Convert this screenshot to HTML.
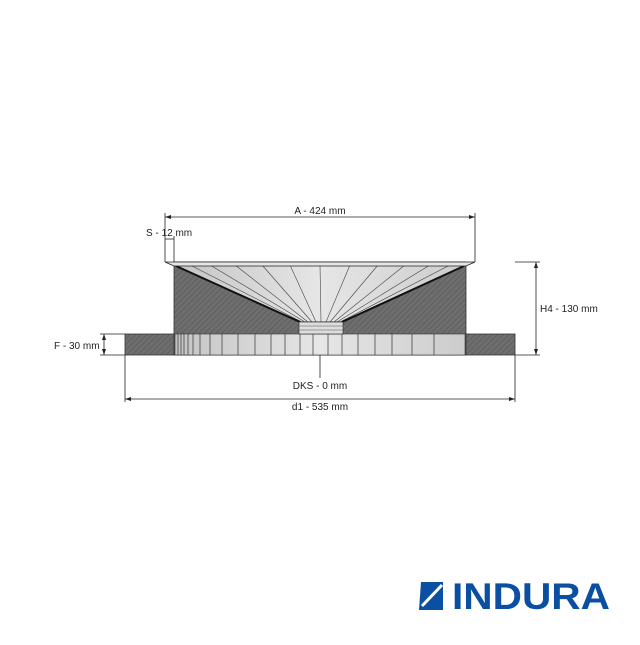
<!DOCTYPE html>
<html><head><meta charset="utf-8"><style>
body{margin:0;background:#fff;width:640px;height:640px;overflow:hidden}
text{font-family:"Liberation Sans",sans-serif;font-size:10px;fill:#222}
</style></head><body>
<svg width="640" height="640" viewBox="0 0 640 640">
<defs>
<pattern id="h" width="4" height="4" patternUnits="userSpaceOnUse" patternTransform="rotate(45)">
<rect width="4" height="4" fill="#6e6e6e"/><line x1="0" y1="0" x2="0" y2="4" stroke="#5a5a5a" stroke-width="1.5"/>
</pattern>
<linearGradient id="g" x1="0" x2="1">
<stop offset="0" stop-color="#c4c4c4"/><stop offset="0.5" stop-color="#e6e6e6"/><stop offset="1" stop-color="#cccccc"/>
</linearGradient>
</defs>
<rect x="125" y="334" width="390" height="21" fill="url(#h)" stroke="#333" stroke-width="0.8"/>
<rect x="174" y="262" width="292" height="93" fill="url(#h)" stroke="#333" stroke-width="0.8"/>
<rect x="175" y="334" width="290" height="21" fill="url(#g)" stroke="#333" stroke-width="0.6"/>
<g stroke="#333" stroke-width="0.7">
<line x1="178" y1="334" x2="178" y2="355"/><line x1="181" y1="334" x2="181" y2="355"/><line x1="184" y1="334" x2="184" y2="355"/>
<line x1="188" y1="334" x2="188" y2="355"/><line x1="193" y1="334" x2="193" y2="355"/><line x1="200" y1="334" x2="200" y2="355"/>
<line x1="210" y1="334" x2="210" y2="355"/><line x1="222" y1="334" x2="222" y2="355"/><line x1="238" y1="334" x2="238" y2="355"/>
<line x1="255" y1="334" x2="255" y2="355"/><line x1="271" y1="334" x2="271" y2="355"/><line x1="285" y1="334" x2="285" y2="355"/>
<line x1="300" y1="334" x2="300" y2="355"/><line x1="313" y1="334" x2="313" y2="355"/><line x1="328" y1="334" x2="328" y2="355"/>
<line x1="342" y1="334" x2="342" y2="355"/><line x1="358" y1="334" x2="358" y2="355"/><line x1="375" y1="334" x2="375" y2="355"/>
<line x1="392" y1="334" x2="392" y2="355"/><line x1="412" y1="334" x2="412" y2="355"/><line x1="434" y1="334" x2="434" y2="355"/>
</g>
<polygon points="174,265 466,265 342,322 300,322" fill="url(#g)" stroke="#222" stroke-width="1"/>
<g stroke="#444" stroke-width="0.6">
<line x1="190" y1="265" x2="302" y2="322"/><line x1="210" y1="265" x2="305" y2="322"/><line x1="235" y1="265" x2="308" y2="322"/>
<line x1="262" y1="265" x2="312" y2="322"/><line x1="290" y1="265" x2="316" y2="322"/><line x1="320" y1="265" x2="321" y2="322"/>
<line x1="350" y1="265" x2="326" y2="322"/><line x1="378" y1="265" x2="330" y2="322"/><line x1="405" y1="265" x2="334" y2="322"/>
<line x1="430" y1="265" x2="337" y2="322"/><line x1="450" y1="265" x2="340" y2="322"/>
</g>
<line x1="176" y1="266" x2="300" y2="322" stroke="#111" stroke-width="2"/>
<line x1="464" y1="266" x2="342" y2="322" stroke="#111" stroke-width="2"/>
<rect x="299" y="322" width="44" height="12" fill="#ddd" stroke="#333" stroke-width="0.7"/>
<line x1="299" y1="326" x2="343" y2="326" stroke="#555" stroke-width="0.5"/>
<line x1="299" y1="330" x2="343" y2="330" stroke="#555" stroke-width="0.5"/>
<polygon points="165,262 475,262 466,266 174,266" fill="#e5e5e5" stroke="#222" stroke-width="0.8"/>
<g stroke="#222" stroke-width="0.8" fill="none">
<line x1="165" y1="217" x2="475" y2="217"/><line x1="165" y1="213" x2="165" y2="262"/><line x1="475" y1="213" x2="475" y2="262"/>
<line x1="165" y1="239" x2="174" y2="239"/><line x1="174" y1="236" x2="174" y2="262"/>
<line x1="515" y1="262" x2="540" y2="262"/><line x1="536" y1="262" x2="536" y2="355"/><line x1="515" y1="355" x2="540" y2="355"/>
<line x1="100" y1="334" x2="125" y2="334"/><line x1="100" y1="355" x2="125" y2="355"/><line x1="104" y1="334" x2="104" y2="355"/>
<line x1="125" y1="355" x2="125" y2="402"/><line x1="515" y1="355" x2="515" y2="402"/><line x1="125" y1="399" x2="515" y2="399"/>
<line x1="320" y1="355" x2="320" y2="378"/>
</g>
<g fill="#222">
<polygon points="165,217 171,215 171,219"/><polygon points="475,217 469,215 469,219"/>
<polygon points="536,262 534,268 538,268"/><polygon points="536,355 534,349 538,349"/>
<polygon points="104,334 102,340 106,340"/><polygon points="104,355 102,349 106,349"/>
<polygon points="125,399 131,397 131,401"/><polygon points="515,399 509,397 509,401"/>
</g>
<text x="320" y="214" text-anchor="middle">A - 424 mm</text>
<text x="146" y="236">S - 12 mm</text>
<text x="540" y="312">H4 - 130 mm</text>
<text x="54" y="349">F - 30 mm</text>
<text x="320" y="389" text-anchor="middle">DKS - 0 mm</text>
<text x="320" y="410" text-anchor="middle">d1 - 535 mm</text>
<path d="M421,582 h22 v28 h-24 z" fill="#0b4fa3"/>
<path d="M422,606 L442,585" stroke="#fff" stroke-width="3"/>
<text x="452" y="609" textLength="158" lengthAdjust="spacingAndGlyphs" style="font-size:37px;font-weight:bold;fill:#0b4fa3">INDURA</text>
</svg>
</body></html>
